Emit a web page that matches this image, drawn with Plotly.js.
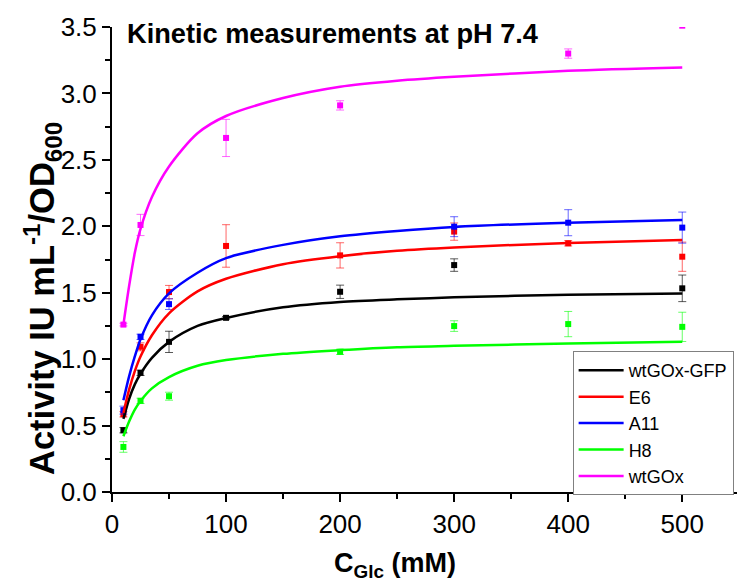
<!DOCTYPE html>
<html>
<head>
<meta charset="utf-8">
<script src="https://cdn.plot.ly/plotly-3.0.1.min.js"></script>
<style>html,body{margin:0;padding:0;background:#fff;}#chart{width:737px;height:587px;}</style>
</head>
<body>
<div id="chart"></div>
<script>
// Fitted curve sampling
var curveX = [10, 15, 20, 25, 35, 50, 75, 100, 150, 200, 250, 300, 400, 500];
var fitGFP = [0.55, 0.70, 0.81, 0.89, 1.01, 1.13, 1.25, 1.31, 1.39, 1.43, 1.45, 1.465, 1.485, 1.495];
var fitE6  = [0.595, 0.77, 0.91, 1.02, 1.18, 1.345, 1.51, 1.605, 1.715, 1.775, 1.815, 1.84, 1.875, 1.897];
var fitA11 = [0.69, 0.87, 1.02, 1.15, 1.33, 1.495, 1.65, 1.76, 1.86, 1.925, 1.965, 1.995, 2.027, 2.047];
var fitH8  = [0.42, 0.53, 0.62, 0.685, 0.78, 0.865, 0.95, 0.993, 1.04, 1.068, 1.09, 1.10, 1.118, 1.13];
var fitWT  = [1.26, 1.55, 1.80, 1.98, 2.22, 2.45, 2.70, 2.83, 2.965, 3.05, 3.095, 3.125, 3.17, 3.195];

// Measured points
var gfpX = [10, 25, 50, 100, 200, 300, 500];
var gfpY = [0.465, 0.897, 1.13, 1.311, 1.507, 1.708, 1.533];
var gfpE = [0.02, 0.02, 0.08, 0.01, 0.05, 0.047, 0.10];

var e6X = [10, 25, 50, 100, 200, 300, 400, 500];
var e6Y = [0.585, 1.093, 1.505, 1.852, 1.781, 1.96, 1.872, 1.771];
var e6E = [0.02, 0.03, 0.05, 0.16, 0.095, 0.065, 0.02, 0.11];

var a11X = [10, 25, 50, 300, 400, 500];
var a11Y = [0.616, 1.168, 1.414, 1.997, 2.027, 1.99];
var a11E = [0.03, 0.02, 0.04, 0.075, 0.098, 0.117];

var h8X = [10, 25, 50, 200, 300, 400, 500];
var h8Y = [0.339, 0.686, 0.721, 1.055, 1.249, 1.264, 1.243];
var h8E = [0.04, 0.02, 0.03, 0.02, 0.04, 0.095, 0.11];

var wtX = [10, 25, 100, 200, 400, 500];
var wtY = [1.26, 2.01, 2.665, 2.91, 3.30, 3.51];
var wtE = [0.01, 0.08, 0.14, 0.035, 0.035, 0.0];

var names = ['wtGOx-GFP', 'E6', 'A11', 'H8', 'wtGOx'];
var colors = ['#000000', '#ff0000', '#0000ff', '#00ff00', '#ff00ff'];
var errColors = ['rgba(0,0,0,0.65)', 'rgba(255,0,0,0.6)', 'rgba(0,0,255,0.6)', 'rgba(0,255,0,0.6)', 'rgba(255,0,255,0.6)'];

var fits = [fitGFP, fitE6, fitA11, fitH8, fitWT];
var ptsX = [gfpX, e6X, a11X, h8X, wtX];
var ptsY = [gfpY, e6Y, a11Y, h8Y, wtY];
var ptsE = [gfpE, e6E, a11E, h8E, wtE];

var traces = [];
for (var i = 0; i < 5; i++) {
  traces.push({
    x: ptsX[i], y: ptsY[i], type: 'scatter', mode: 'markers',
    marker: {symbol: 'square', size: 6, color: colors[i]},
    error_y: {type: 'data', array: ptsE[i], visible: true, color: errColors[i], thickness: 1, width: 4},
    showlegend: false, hoverinfo: 'x+y', cliponaxis: true
  });
}
for (var j = 0; j < 5; j++) {
  traces.push({
    x: curveX, y: fits[j], type: 'scatter', mode: 'lines', name: names[j],
    line: {color: colors[j], width: 2.5, shape: 'spline', smoothing: 0.8},
    cliponaxis: true
  });
}

var FONT = 'Liberation Sans, Arial, Helvetica, sans-serif';
var layout = {
  width: 737, height: 587,
  margin: {l: 112, r: 0, t: 27, b: 95},
  paper_bgcolor: '#ffffff', plot_bgcolor: '#ffffff',
  font: {family: FONT, color: '#000'},
  showlegend: true,
  legend: {
    x: 0.737, y: 0.303, xanchor: 'left', yanchor: 'top',
    bgcolor: '#ffffff', bordercolor: '#808080', borderwidth: 1,
    font: {family: FONT, size: 18, color: '#000'},
    itemwidth: 45,
    tracegroupgap: 0
  },
  xaxis: {
    range: [0, 548], showgrid: false, zeroline: false,
    showline: true, linecolor: '#000', linewidth: 2,
    ticks: 'outside', ticklen: 8, tickwidth: 2, tickcolor: '#000',
    dtick: 100, tick0: 0,
    minor: {dtick: 50, ticks: 'outside', ticklen: 5, tickwidth: 2, tickcolor: '#000', showgrid: false},
    tickfont: {family: FONT, size: 26, color: '#000'}
  },
  yaxis: {
    range: [0, 3.5], showgrid: false, zeroline: false,
    showline: true, linecolor: '#000', linewidth: 2,
    ticks: 'outside', ticklen: 8, tickwidth: 2, tickcolor: '#000',
    dtick: 0.5, tick0: 0, tickformat: '.1f',
    minor: {dtick: 0.25, ticks: 'outside', ticklen: 5, tickwidth: 2, tickcolor: '#000', showgrid: false},
    tickfont: {family: FONT, size: 26, color: '#000'}
  },
  annotations: [{
    text: '<b>Kinetic measurements at pH 7.4</b>',
    xref: 'paper', yref: 'paper', x: 0.0208, y: 0.987,
    xanchor: 'left', yanchor: 'middle', showarrow: false,
    font: {family: FONT, size: 27.2, color: '#000'}
  }, {
    text: '<b>Activity IU mL<sup>-1</sup>/OD<sub>600</sub></b>',
    xref: 'paper', yref: 'paper', x: -0.112, y: 0.415,
    xanchor: 'center', yanchor: 'middle', showarrow: false, textangle: -90,
    font: {family: FONT, size: 34.5, color: '#000'}
  }, {
    text: '<b>C<sub>Glc</sub> (mM)</b>',
    xref: 'paper', yref: 'paper', x: 0.453, y: -0.157,
    xanchor: 'center', yanchor: 'middle', showarrow: false,
    font: {family: FONT, size: 27, color: '#000'}
  }]
};

Plotly.newPlot('chart', traces, layout, {displayModeBar: false, staticPlot: true});
</script>
</body>
</html>
